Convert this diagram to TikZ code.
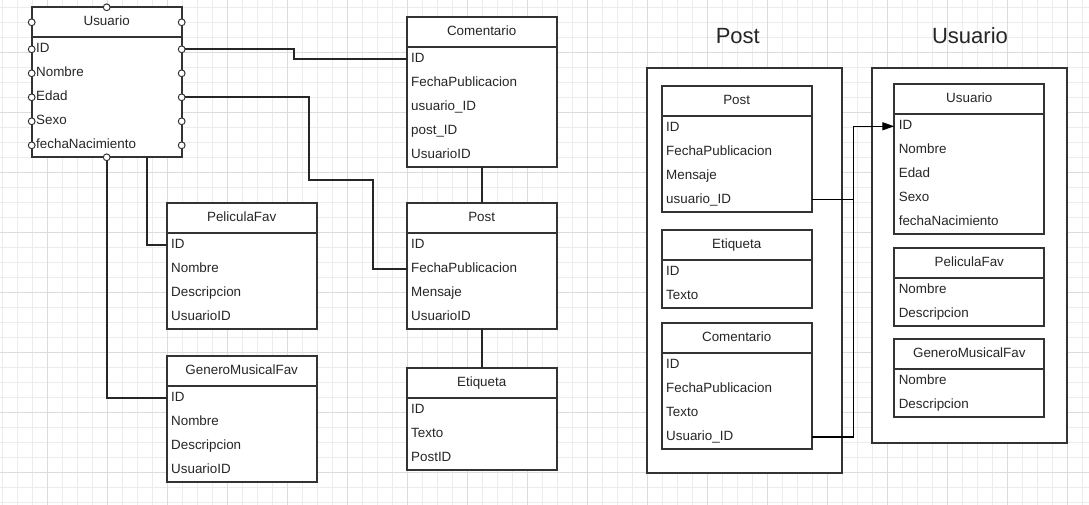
\documentclass[tikz,border=0pt]{standalone}
\usepackage{fontspec}
\setmainfont{Liberation Sans}
\usetikzlibrary{arrows.meta,calc}
\definecolor{ink}{HTML}{333333}
\definecolor{txt}{HTML}{262626}
\definecolor{gridminor}{HTML}{ECECEC}
\definecolor{gridmajor}{HTML}{DCDCDC}
\tikzset{
  hdr/.style={draw=ink, line width=1.8pt, fill=white, minimum width=150pt, minimum height=30pt,
    inner sep=0pt, outer sep=0pt, anchor=north west, text height=9.6pt, text depth=2.2pt,
    font=\fontsize{13.4}{16}\selectfont, text=txt},
  rowcell/.style={minimum width=150pt, minimum height=24pt, inner xsep=4.5pt, inner ysep=0pt,
    outer sep=0pt, text width=141pt, align=left, anchor=north west, text height=9.6pt,
    text depth=2.8pt, font=\fontsize{13.4}{16}\selectfont, text=txt},
  tbody/.style={draw=ink, line width=1.8pt, fill=white},
  container/.style={draw=ink, line width=2pt, fill=white, anchor=north west, inner sep=0pt, outer sep=0pt},
  conn/.style={draw=txt, line width=1.8pt},
  rconn/.style={draw=black, line width=1.3pt},
  port/.style={circle, draw=ink, fill=white, line width=1pt, minimum size=6.8pt, inner sep=0pt},
  gminor/.style={draw=gridminor, line width=1pt},
  gmajor/.style={draw=gridmajor, line width=1pt},
  bigtitle/.style={font=\fontsize{22}{26}\selectfont, text=txt, anchor=base, inner sep=0pt}
}
\newcommand{\ertbl}[5]{%
  \foreach \r [count=\i] in {#5} {\xdef\ertlast{\i}}%
  \draw[tbody] (#2,#3) rectangle ({#2+150},{#3+30+24*\ertlast});
  \node[hdr] (#1-h) at (#2,#3) {#4};
  \foreach \r [count=\i] in {#5} {
    \node[rowcell] (#1-\i) at (#2,{#3+30+24*(\i-1)}) {\r};
  }%
}
\begin{document}
\begin{tikzpicture}[x=1pt,y=-1pt]
\useasboundingbox (0,0) rectangle (1089,505);
\fill[white] (0,0) rectangle (1089,505);
% grid
\foreach \x in {2.7,17.7,...,1089} \draw[gminor] (\x,0) -- (\x,505);
\foreach \y in {7.7,22.7,...,505} \draw[gminor] (0,\y) -- (1089,\y);
\foreach \x in {47.7,107.7,...,1089} \draw[gmajor] (\x,0) -- (\x,505);
\foreach \y in {52.7,112.7,...,505} \draw[gmajor] (0,\y) -- (1089,\y);

% ---------- left diagram ----------
\ertbl{usr}{31.7}{7.3}{Usuario}{ID,Nombre,Edad,Sexo,fechaNacimiento}
\ertbl{com}{406.7}{16.7}{Comentario}{ID,FechaPublicacion,usuario\_ID,post\_ID,UsuarioID}
\ertbl{lpost}{406.7}{202.7}{Post}{ID,FechaPublicacion,Mensaje,UsuarioID}
\ertbl{let}{406.7}{368}{Etiqueta}{ID,Texto,PostID}
\ertbl{pf}{166.7}{202.7}{PeliculaFav}{ID,Nombre,Descripcion,UsuarioID}
\ertbl{gm}{166.7}{356}{GeneroMusicalFav}{ID,Nombre,Descripcion,UsuarioID}

\coordinate (b1) at (309,180.3);
\coordinate (b2) at (372.7,180.3);
\draw[conn] (usr-1.east) -- ++(112.3,0) |- (com-1.west);
\draw[conn] (usr-3.east) -| (b1) -- (b2) |- (lpost-2.west);
\draw[conn] ([xshift=40pt]usr-5.south) |- (pf-1.west);
\draw[conn] (usr-5.south) |- (gm-1.west);
\draw[conn] (com-5.south) -- (lpost-h.north);
\draw[conn] (lpost-4.south) -- (let-h.north);

% ports on Usuario
\node[port] (pt-top) at (usr-h.north) {};
\node[port] (pt-hw) at (usr-h.west) {};
\node[port] (pt-he) at (usr-h.east) {};
\foreach \i in {1,...,5} {
  \node[port] (pt-w\i) at (usr-\i.west) {};
  \node[port] (pt-e\i) at (usr-\i.east) {};
}
\node[port] (pt-bot) at (usr-5.south) {};

% ---------- right diagram ----------
\node[bigtitle] (tpost) at (737.8,43.7) {Post};
\node[bigtitle] (tusr) at (970,43.7) {Usuario};
\node[container, minimum width=195.3pt, minimum height=405pt] (cpost) at (646.7,67.7) {};
\node[container, minimum width=195.3pt, minimum height=375pt] (cusr) at (871.7,67.7) {};

\ertbl{rpost}{661.7}{85.7}{Post}{ID,FechaPublicacion,Mensaje,usuario\_ID}
\ertbl{ret}{661.7}{230}{Etiqueta}{ID,Texto}
\ertbl{rcom}{661.7}{323}{Comentario}{ID,FechaPublicacion,Texto,Usuario\_ID}
\ertbl{rusr}{894.3}{84.3}{Usuario}{ID,Nombre,Edad,Sexo,fechaNacimiento}
\ertbl{rpf}{894.3}{248}{PeliculaFav}{Nombre,Descripcion}
\ertbl{rgm}{894.3}{339}{GeneroMusicalFav}{Nombre,Descripcion}

\coordinate (jx) at (853.3,0);
\draw[rconn] (rcom-4.east) -| (jx |- rpost-4.east);
\draw[rconn, -{Triangle[length=12pt,width=8pt]}] (rpost-4.east) -| (jx |- rusr-1.west) -- (rusr-1.west);
\end{tikzpicture}
\end{document}
